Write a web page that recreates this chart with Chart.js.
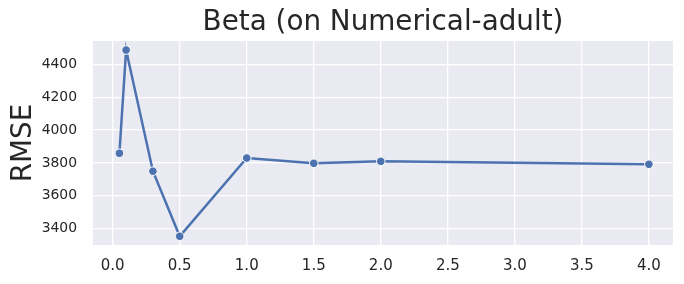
<!DOCTYPE html>
<html>
<head>
<meta charset="utf-8">
<script src="https://cdn.jsdelivr.net/npm/chart.js@4"></script>
<style>
  html, body { margin: 0; padding: 0; background: #ffffff; }
  canvas { display: block; }
</style>
</head>
<body>
<canvas id="c" width="684" height="284"></canvas>
<script>
const betaValues = [0.05, 0.1, 0.3, 0.5, 1.0, 1.5, 2.0, 4.0];
const rmseValues = [3859, 4487, 3750, 3354, 3830, 3798, 3810, 3792];
const xTickValues = [0, 0.5, 1.0, 1.5, 2.0, 2.5, 3.0, 3.5, 4.0];
const yTickValues = [3400, 3600, 3800, 4000, 4200, 4400];
const titleText = 'Beta (on Numerical-adult)';
const yLabelText = 'RMSE';

const FONT = "'DejaVu Sans', 'Liberation Sans', sans-serif";
const TEXT = '#262626';

const bgPlugin = {
  id: 'areaBg',
  beforeDraw(chart) {
    const { ctx, chartArea: a } = chart;
    ctx.save();
    ctx.fillStyle = '#eaeaf2';
    ctx.fillRect(a.left, a.top, a.right - a.left, a.bottom - a.top);
    ctx.restore();
  }
};

new Chart(document.getElementById('c'), {
  type: 'line',
  data: {
    datasets: [{
      data: betaValues.map((b, i) => ({ x: b, y: rmseValues[i] })),
      borderColor: '#4c72b0',
      backgroundColor: '#4c72b0',
      borderWidth: 2.5,
      pointRadius: 4.3,
      pointHoverRadius: 4.3,
      pointBackgroundColor: '#4c72b0',
      pointBorderColor: '#ffffff',
      pointBorderWidth: 1,
      tension: 0,
      fill: false,
      clip: false
    }]
  },
  options: {
    responsive: false,
    devicePixelRatio: 1,
    animation: false,
    layout: { padding: { left: 0, right: 11, top: 0, bottom: 0 } },
    plugins: {
      legend: { display: false },
      tooltip: { enabled: false },
      title: {
        display: true,
        text: titleText,
        fullSize: false,
        color: TEXT,
        font: { family: FONT, size: 27.8, weight: 'normal', lineHeight: 1.2 },
        padding: { top: 6, bottom: 1.64 }
      }
    },
    scales: {
      x: {
        type: 'linear',
        min: -0.147,
        max: 4.18,
        afterBuildTicks(scale) { scale.ticks = xTickValues.map(v => ({ value: v })); },
        afterFit(scale) { scale.height = 39; },
        ticks: {
          color: TEXT,
          font: { family: FONT, size: 15 },
          padding: 12,
          maxRotation: 0,
          autoSkip: false,
          callback: v => Number(v).toFixed(1)
        },
        grid: { color: '#ffffff', lineWidth: 1.3, drawTicks: false },
        border: { display: false }
      },
      y: {
        type: 'linear',
        min: 3301,
        max: 4542,
        afterBuildTicks(scale) { scale.ticks = yTickValues.map(v => ({ value: v })); },
        afterFit(scale) { scale.width = 93; },
        ticks: {
          color: TEXT,
          font: { family: FONT, size: 13.9 },
          padding: 16,
          autoSkip: false,
          callback: v => String(Math.round(v))
        },
        title: {
          display: true,
          text: yLabelText,
          color: TEXT,
          font: { family: FONT, size: 27.8, weight: 'normal', lineHeight: 1.2 },
          padding: { top: 7, bottom: 0 }
        },
        grid: { color: '#ffffff', lineWidth: 1.3, drawTicks: false },
        border: { display: false }
      }
    }
  },
  plugins: [bgPlugin]
});
</script>
</body>
</html>
